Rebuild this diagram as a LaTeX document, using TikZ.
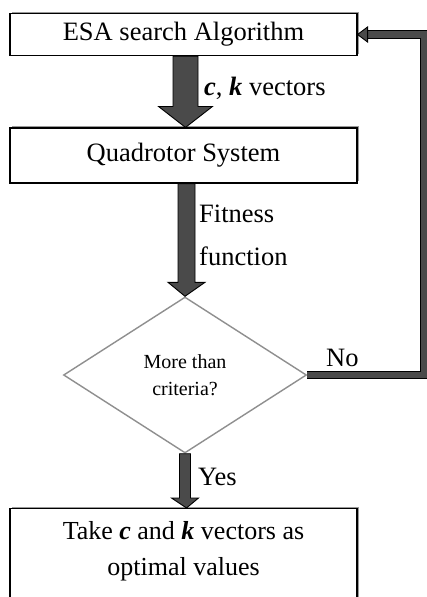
\documentclass[tikz,border=0pt]{standalone}
\usepackage{fontspec}
\setmainfont{Liberation Serif}
\usetikzlibrary{shapes.geometric,shadows,calc}
\definecolor{arrgray}{HTML}{4A4A4A}
\definecolor{diagray}{HTML}{8F8F8F}
\newcommand\blockarr[5]{%
  \draw[arrowst] let \p1=(#1), \p2=(#2) in
    (\x1-#3pt,\y1) -- (\x1-#3pt,\y2+#5pt) -- (\x1-#4pt,\y2+#5pt) -- (\x2,\y2)
    -- (\x1+#4pt,\y2+#5pt) -- (\x1+#3pt,\y2+#5pt) -- (\x1+#3pt,\y1) -- cycle;}
\begin{document}
\begin{tikzpicture}[x=1pt,y=-1pt,
  box/.style={draw=black, line width=1.1pt, fill=white, rectangle,
    minimum width=347pt, inner sep=0pt,
    drop shadow={shadow xshift=2pt, shadow yshift=2pt, fill=gray!80, opacity=1}},
  bigfont/.style={font=\fontsize{26.5}{36}\selectfont},
  arrowst/.style={draw=black, line width=0.9pt, fill=arrgray, line join=miter},
  lbl/.style={anchor=base west, inner sep=0pt, font=\fontsize{26.5}{36}\selectfont}]
\clip (0,0) rectangle (427,597);
\fill[white] (0,0) rectangle (427,597);

\node[box, bigfont, minimum height=42pt] (esa) at (183.5,34.5) {ESA search Algorithm};
\node[box, bigfont, minimum height=55pt] (quad) at (183.5,155.5) {Quadrotor System};
\node[draw=diagray, line width=1.4pt, diamond, minimum width=243pt, minimum height=156pt,
  inner sep=0pt, align=center, font=\fontsize{20}{27}\selectfont] (dec) at (185,375)
  {More than\\criteria?};
\node[box, anchor=north, align=center, inner xsep=0pt, inner ysep=13pt,
  font=\fontsize{26}{36}\selectfont] (take) at (183.5,508)
  {Take \textbf{\textit{c}} and \textbf{\textit{k}} vectors as\\optimal values\\ \strut};

% block arrows
\coordinate (a1s) at ([xshift=2pt]esa.south);
\coordinate (a1e) at ([xshift=2pt]quad.north);
\blockarr{a1s}{a1e}{12.5}{27}{21}
\coordinate (a2s) at ([xshift=3pt]quad.south);
\blockarr{a2s}{dec.north}{8.5}{18.5}{14}
\coordinate (a3e) at ([xshift=3pt]take.north);
\blockarr{dec.south}{a3e}{5.5}{13.5}{10}

% feedback loop
\coordinate (fbx) at (424.5,0);
\draw[line width=1.3pt, double=arrgray, double distance=6.2pt, line join=miter]
  (dec.east) -| (fbx |- esa.east) -- ([xshift=9pt]esa.east);
\draw[arrowst] (esa.east) -- ++(10,-7.5) -- ++(0,15) -- cycle;

% labels
\node[lbl] (lck) at (204,95) {\textbf{\textit{c}}, \textbf{\textit{k}} vectors};
\node[lbl] (lfit) at (199,222) {Fitness};
\node[lbl] (lfun) at (199,265) {function};
\node[lbl] (lno) at (326,366) {No};
\node[lbl] (lyes) at (198,485) {Yes};
\end{tikzpicture}
\end{document}
